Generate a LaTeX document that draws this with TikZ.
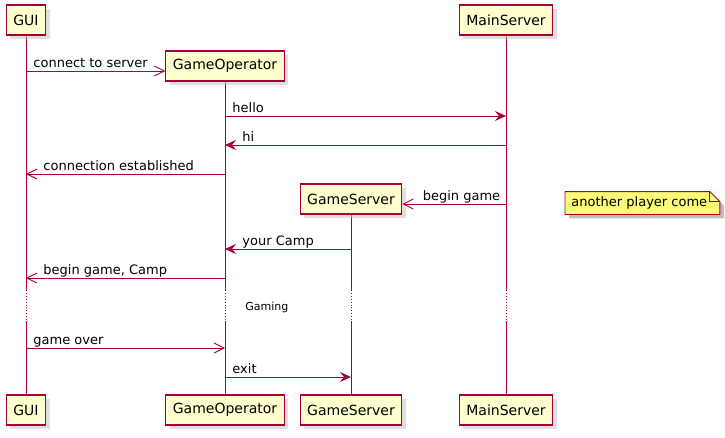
\documentclass[tikz,border=0pt]{standalone}
\usepackage{fontspec}
\setmainfont{DejaVu Sans}
\usetikzlibrary{arrows.meta,shadows,backgrounds,calc}
\definecolor{umlred}{HTML}{A80036}
\definecolor{umlbox}{HTML}{FEFECE}
\definecolor{umlnote}{HTML}{FBFB77}

\begin{document}
\begin{tikzpicture}[x=1pt,y=-1pt,line width=0.9pt,font=\fontsize{13}{15}\selectfont,
    actor/.style={draw=umlred,fill=umlbox,line width=1.1pt,minimum height=30pt,inner xsep=7pt,
      font=\fontsize{14}{16}\selectfont,
      drop shadow={shadow xshift=4pt,shadow yshift=-4pt,fill=black!25}},
    life/.style={umlred,line width=0.9pt},
    sync/.style={umlred,-{Stealth[length=11pt,width=10pt,inset=4pt]}},
    async/.style={umlred,-{Straight Barb[length=10pt,width=10pt,line width=0.9pt]}},
    lbl/.style={anchor=base west,inner sep=0pt,text=black}]
    \useasboundingbox (0,0) rectangle (725,437);
    \node[actor] (gui) at (26,20) {GUI};
    \node[actor] (ms) at (506,20) {MainServer};
    \node[actor] (op) at (225,66) {GameOperator};
    \node[actor] (gs) at (351,199) {GameServer};
    \node[actor] (guib) at (26,410) {GUI};
    \node[actor] (opb) at (225,410) {GameOperator};
    \node[actor] (gsb) at (351,410) {GameServer};
    \node[actor] (msb) at (506,410) {MainServer};
    \coordinate (d1) at (0,290);
    \coordinate (d2) at (0,321);
    \begin{scope}[on background layer]
        \foreach \a/\b in {gui/guib,op/opb,gs/gsb,ms/msb}{
            \draw[life] (\a.south) -- (\a |- d1);
            \draw[life,dotted] (\a |- d1) -- (\a |- d2);
            \draw[life] (\a |- d2) -- (\b.north);
        }
    \end{scope}
    \node[lbl,font=\fontsize{11}{13}\selectfont] (gaming) at (245,310) {Gaming};
    % messages
    \coordinate (r1) at (0,71);
    \coordinate (r2) at (0,116);
    \coordinate (r3) at (0,145);
    \coordinate (r4) at (0,174);
    \coordinate (r5) at (0,204);
    \coordinate (r6) at (0,249);
    \coordinate (r7) at (0,278);
    \coordinate (r8) at (0,348);
    \coordinate (r9) at (0,377);
    \draw[async] (gui |- r1) -- (op.west |- r1) node[lbl,pos=0,xshift=7pt,yshift=4pt] (m1) {connect to server};
    \draw[sync] (op |- r2) -- (ms |- r2) node[lbl,pos=0,xshift=7pt,yshift=4pt] (m2) {hello};
    \draw[sync] (ms |- r3) -- (op |- r3) node[lbl,pos=1,xshift=17pt,yshift=4pt] (m3) {hi};
    \draw[async] (op |- r4) -- (gui |- r4) node[lbl,pos=1,xshift=17pt,yshift=4pt] (m4) {connection established};
    \draw[async] (ms |- r5) -- (gs.east |- r5) node[lbl,pos=1,xshift=20pt,yshift=4pt] (m5) {begin game};
    \draw[sync] (gs |- r6) -- (op |- r6) node[lbl,pos=1,xshift=17pt,yshift=4pt] (m6) {your Camp};
    \draw[async] (op |- r7) -- (gui |- r7) node[lbl,pos=1,xshift=17pt,yshift=4pt] (m7) {begin game, Camp};
    \draw[async] (gui |- r8) -- (op |- r8) node[lbl,pos=0,xshift=7pt,yshift=4pt] (m8) {game over};
    \draw[sync] (op |- r9) -- (gs |- r9) node[lbl,pos=0,xshift=7pt,yshift=4pt] (m9) {exit};
    % note
    \node[minimum width=154pt,minimum height=22pt,inner sep=0pt,anchor=west] (note) at (565,203) {};
    \fill[black!25] ([shift={(4pt,-4pt)}]note.south west) -- ([shift={(4pt,-4pt)}]note.north west)
        -- ([shift={(-6pt,-4pt)}]note.north east) -- ([shift={(4pt,-14pt)}]note.north east)
        -- ([shift={(4pt,-4pt)}]note.south east) -- cycle;
    \draw[umlred,fill=umlnote] (note.south west) -- (note.north west) -- ([xshift=-10pt]note.north east)
        -- ([yshift=-10pt]note.north east) -- (note.south east) -- cycle;
    \draw[umlred] ([xshift=-10pt]note.north east) |- ([yshift=-10pt]note.north east);
    \node[anchor=west,inner sep=0pt] (notetext) at ([xshift=6pt]note.west) {another player come};
\end{tikzpicture}
\end{document}
